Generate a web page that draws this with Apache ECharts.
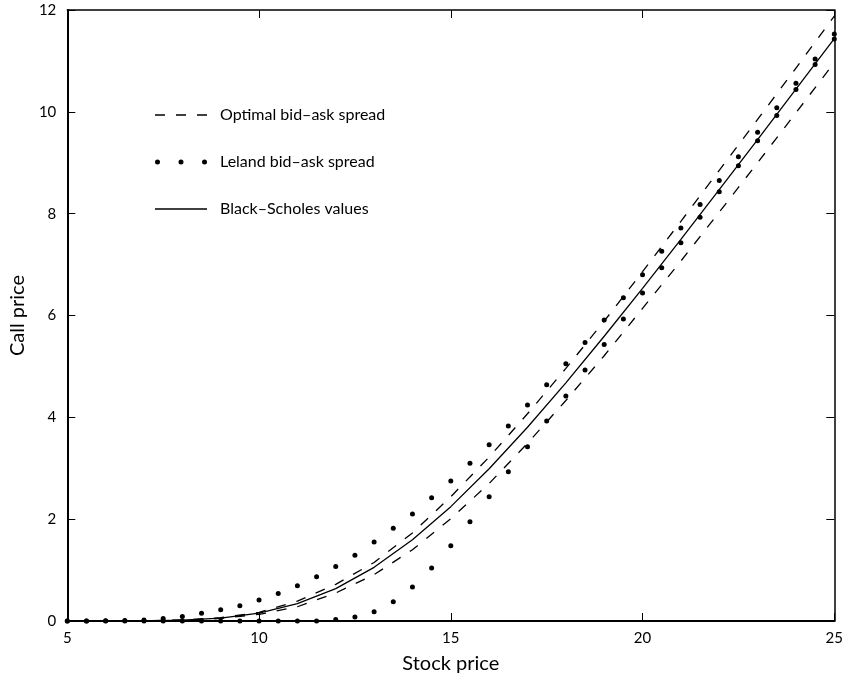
<!DOCTYPE html>
<html>
<head>
<meta charset="utf-8">
<script src="https://cdn.jsdelivr.net/npm/echarts@6/dist/echarts.min.js"></script>
<style>
html,body{margin:0;padding:0;background:#fff;}
#chart{width:846px;height:679px;}
</style>
</head>
<body>
<div id="chart"></div>
<script>
// Stock price grid for the lines (step 1) and for the Leland dots (step 0.5)
var stockGrid = [5,6,7,8,9,10,11,12,13,14,15,16,17,18,19,20,21,22,23,24,25];
var stockHalf = [5,5.5,6,6.5,7,7.5,8,8.5,9,9.5,10,10.5,11,11.5,12,12.5,13,13.5,14,14.5,15,15.5,16,16.5,17,17.5,18,18.5,19,19.5,20,20.5,21,21.5,22,22.5,23,23.5,24,24.5,25];

// Black–Scholes call values
var blackScholes = [0,0,0.003,0.016,0.058,0.155,0.34,0.636,1.054,1.595,2.246,2.989,3.806,4.678,5.592,6.534,7.495,8.471,9.455,10.445,11.438];
// Optimal bid–ask spread (upper / lower)
var optimalAsk = [0,0,0.004,0.02,0.065,0.17,0.39,0.72,1.15,1.73,2.44,3.22,4.07,4.96,5.89,6.86,7.85,8.85,9.85,10.86,11.88];
var optimalBid = [0,0,0.002,0.012,0.05,0.13,0.28,0.55,0.91,1.4,2.01,2.7,3.49,4.33,5.21,6.14,7.07,8.03,9.0,9.98,10.97];
// Leland bid–ask spread (upper / lower)
var lelandAsk = [0,0,0.005,0.01,0.02,0.05,0.09,0.15,0.22,0.3,0.41,0.54,0.69,0.87,1.07,1.29,1.55,1.82,2.1,2.42,2.75,3.1,3.46,3.83,4.24,4.64,5.05,5.47,5.91,6.35,6.8,7.26,7.72,8.18,8.65,9.12,9.6,10.08,10.56,11.04,11.53];
var lelandBid = [0,0,0,0,0,0,0,0,0,0,0,0,0,0,0.03,0.08,0.18,0.38,0.67,1.04,1.48,1.95,2.44,2.93,3.42,3.93,4.42,4.93,5.43,5.93,6.44,6.94,7.43,7.93,8.43,8.94,9.43,9.93,10.44,10.93,11.43];

var xTicks = {min:5, max:25, interval:5};
var yTicks = {min:0, max:12, interval:2};

var FONT = 'Lato, "Open Sans", sans-serif';
function pairs(xs, ys){ return ys.map(function(v,i){ return [xs[i], v]; }); }

var ICON_DASH = 'path://M0,0h10v1.5h-10Z M21,0h10v1.5h-10Z M42,0h10v1.5h-10Z';
var ICON_DOTS = 'path://M0,2.5a2.5,2.5 0 1,0 5,0a2.5,2.5 0 1,0 -5,0Z M23.5,2.5a2.5,2.5 0 1,0 5,0a2.5,2.5 0 1,0 -5,0Z M47,2.5a2.5,2.5 0 1,0 5,0a2.5,2.5 0 1,0 -5,0Z';
var ICON_SOLID = 'path://M0,0h52v1.5h-52Z';

var chart = echarts.init(document.getElementById('chart'), null, {renderer:'canvas'});
var dashed = {color:'#000', width:1.3, type:[10,11]};
chart.setOption({
  animation:false,
  backgroundColor:'#fff',
  color:['#000'],
  textStyle:{fontFamily:FONT, color:'#000'},
  grid:{left:64, right:8, top:10, bottom:58, containLabel:false},
  legend:{
    left:150, top:102, orient:'vertical',
    itemWidth:52, itemHeight:14, itemGap:31,
    textStyle:{fontSize:16, color:'#000', fontFamily:FONT, padding:[0,0,0,8]},
    data:[
      {name:'Optimal bid–ask spread', icon:ICON_DASH},
      {name:'Leland bid–ask spread', icon:ICON_DOTS},
      {name:'Black–Scholes values', icon:ICON_SOLID}
    ]
  },
  xAxis:[
    {type:'value', position:'bottom', min:xTicks.min, max:xTicks.max, interval:xTicks.interval,
     name:'Stock price', nameLocation:'middle', nameGap:33,
     nameTextStyle:{fontSize:20, color:'#000', fontFamily:FONT},
     axisLine:{onZero:false, lineStyle:{color:'#000', width:2}},
     axisTick:{inside:true, length:8, lineStyle:{color:'#000', width:1}},
     axisLabel:{color:'#000', fontSize:15, margin:10, fontFamily:FONT},
     splitLine:{show:false}},
    {type:'value', position:'top', min:xTicks.min, max:xTicks.max, interval:xTicks.interval,
     axisLine:{onZero:false, lineStyle:{color:'#000', width:1.5}},
     axisTick:{inside:true, length:8, lineStyle:{color:'#000', width:1}},
     axisLabel:{show:false}, splitLine:{show:false}}
  ],
  yAxis:[
    {type:'value', position:'left', min:yTicks.min, max:yTicks.max, interval:yTicks.interval,
     name:'Call price', nameLocation:'middle', nameGap:38,
     nameTextStyle:{fontSize:20, color:'#000', fontFamily:FONT},
     axisLine:{onZero:false, lineStyle:{color:'#000', width:2}},
     axisTick:{inside:true, length:8, lineStyle:{color:'#000', width:1}},
     axisLabel:{color:'#000', fontSize:15, margin:11, fontFamily:FONT},
     splitLine:{show:false}},
    {type:'value', position:'right', min:yTicks.min, max:yTicks.max, interval:yTicks.interval,
     axisLine:{onZero:false, lineStyle:{color:'#000', width:1.5}},
     axisTick:{inside:true, length:8, lineStyle:{color:'#000', width:1}},
     axisLabel:{show:false}, splitLine:{show:false}}
  ],
  series:[
    {name:'Optimal bid–ask spread', type:'line', data:pairs(stockGrid, optimalAsk),
     symbol:'none', itemStyle:{color:'#000'}, lineStyle:dashed, silent:true},
    {name:'Optimal bid–ask spread', type:'line', data:pairs(stockGrid, optimalBid),
     symbol:'none', itemStyle:{color:'#000'}, lineStyle:dashed, silent:true},
    {name:'Leland bid–ask spread', type:'scatter', data:pairs(stockHalf, lelandAsk),
     symbol:'circle', symbolSize:5, itemStyle:{color:'#000', opacity:1}, clip:false},
    {name:'Leland bid–ask spread', type:'scatter', data:pairs(stockHalf, lelandBid),
     symbol:'circle', symbolSize:5, itemStyle:{color:'#000', opacity:1}, clip:false},
    {name:'Black–Scholes values', type:'line', data:pairs(stockGrid, blackScholes),
     symbol:'none', itemStyle:{color:'#000'}, lineStyle:{color:'#000', width:1.3}, silent:true}
  ]
});
</script>
</body>
</html>
